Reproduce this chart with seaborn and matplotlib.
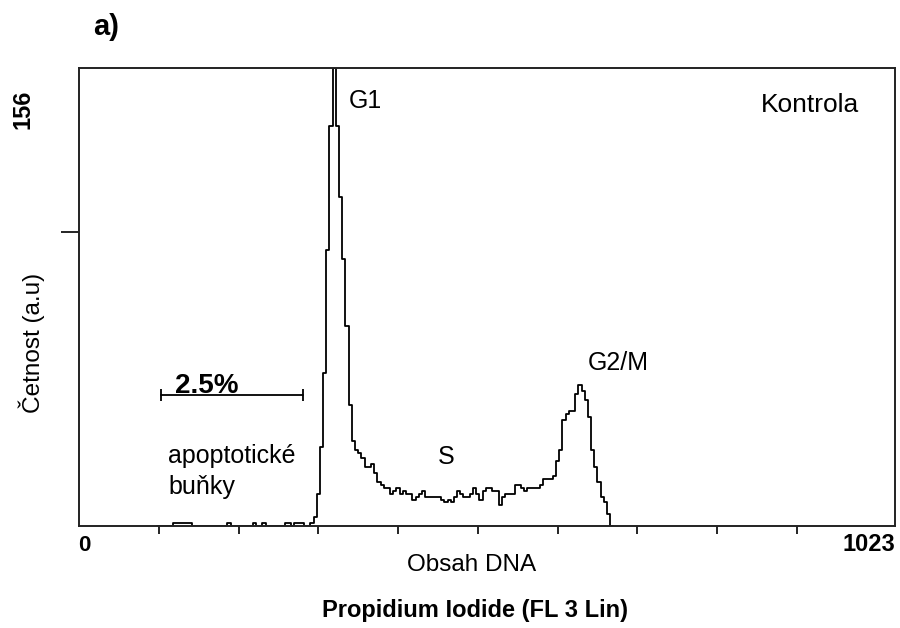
import numpy as np
import pandas as pd
import matplotlib
matplotlib.use("Agg")
import matplotlib.pyplot as plt
import seaborn as sns

# ---------------- data ----------------
# histogram of DNA content, 4-channel bins starting at channel 98
bin_start = 98
bin_width = 4
counts_apoptotic = [0, 0, 0, 0, 0, 1, 1, 1, 1, 1, 1, 0, 0, 0, 0, 0, 0, 0, 0, 0,
                    0, 0, 1, 0, 0, 0, 0, 0, 0, 0, 1, 0, 0, 1, 0, 0, 0, 0, 0, 0,
                    1, 1, 0, 1, 1]
counts_g1 = [1, 0, 0, 1, 3, 11, 27, 52, 94, 136, 156, 136, 112, 91, 68, 41, 29]
counts_s = [26, 25, 23, 20, 20, 21, 18, 15, 14, 13, 13, 11, 12, 13, 11, 12, 11, 11,
            9, 10, 11, 12, 10, 10, 10, 10, 10, 9, 8, 9, 8, 10, 12, 11, 10, 10, 11,
            13, 11, 9, 12, 13, 13, 12, 12, 7, 10, 11, 11, 11, 14, 14, 13, 12, 13,
            13, 13, 13, 14]
counts_g2m = [16, 16, 16, 17, 22, 26, 36, 38, 39, 39, 45, 48, 46, 43, 37, 26, 20,
              15, 10, 8, 4, 0]

counts = np.array(counts_apoptotic + counts_g1 + counts_s + counts_g2m, dtype=float)
edges = [bin_start + bin_width * i for i in range(len(counts) + 1)]
centers = [(edges[i] + edges[i + 1]) / 2 for i in range(len(counts))]
df = pd.DataFrame({"channel": centers, "count": counts})

x_max = 1023
y_max = 156
x_ticks = [100, 200, 300, 400, 500, 600, 700, 800, 900]
y_ticks = [100]
gate = (103, 281)
gate_level = 44.6

# ---------------- style ----------------
sns.set_style("ticks")
plt.rcParams["font.family"] = ["Liberation Sans", "DejaVu Sans"]

W, H = 900, 628
fig = plt.figure(figsize=(W / 100, H / 100), dpi=100)
fig.patch.set_facecolor("white")

L, R, T, B = 79, 895, 67.5, 526
ax = fig.add_axes([L / W, 1 - B / H, (R - L) / W, (B - T) / H])

sns.histplot(data=df, x="channel", weights="count", bins=edges,
             element="step", fill=False, color="black", linewidth=1.3, ax=ax)

ax.set_xlim(0, x_max)
ax.set_ylim(0, y_max)
ax.set_xlabel("")
ax.set_ylabel("")
ax.set_xticks(x_ticks)
ax.set_yticks(y_ticks)
ax.set_xticklabels([])
ax.set_yticklabels([])
ax.tick_params(axis="x", direction="out", length=6, width=1.2, color="black")
ax.tick_params(axis="y", direction="out", length=13, width=1.2, color="black")
for s in ax.spines.values():
    s.set_visible(True)
    s.set_color("#222222")
    s.set_linewidth(1.4)
ax.set_facecolor("white")

# gate marker
ax.plot(list(gate), [gate_level, gate_level], color="black", lw=1.3,
        marker="|", markersize=9, markeredgewidth=1.3)


def ftext(x, y, s, **kw):
    fig.text(x / W, 1 - y / H, s, color="black", **kw)


ftext(106, 27, "a)", ha="center", va="center", fontsize=21, fontweight="bold")
ftext(23, 109, "156", ha="center", va="center", fontsize=17, fontweight="bold",
      rotation=90)
ftext(32, 343, "Četnost (a.u)", ha="center", va="center", fontsize=17.5,
      rotation=90)
ftext(349, 101, "G1", ha="left", va="center", fontsize=18)
ftext(810, 105, "Kontrola", ha="center", va="center", fontsize=19)
ftext(618, 363, "G2/M", ha="center", va="center", fontsize=18)
ftext(446, 457, "S", ha="center", va="center", fontsize=18)
ftext(175, 393, "2.5%", ha="left", va="baseline", fontsize=20,
      fontweight="bold")
ftext(168, 463, "apoptotické", ha="left", va="baseline", fontsize=18)
ftext(168, 494, "buňky", ha="left", va="baseline", fontsize=18)
ftext(78, 535, "0", ha="left", va="top", fontsize=16, fontweight="bold")
ftext(895, 533, "1023", ha="right", va="top", fontsize=17, fontweight="bold")
ftext(472, 565, "Obsah DNA", ha="center", va="center", fontsize=17.5)
ftext(475, 611, "Propidium Iodide (FL 3 Lin)", ha="center", va="center",
      fontsize=17, fontweight="bold")

fig.savefig("out.png", dpi=100, facecolor="white")
